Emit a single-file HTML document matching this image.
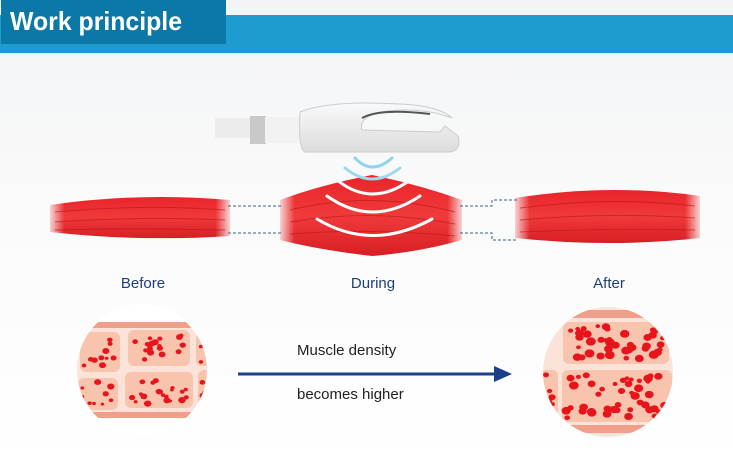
<!DOCTYPE html>
<html><head><meta charset="utf-8"><style>
body{margin:0;width:733px;height:469px;overflow:hidden;background:#fff;font-family:"Liberation Sans",sans-serif}
</style></head><body>
<svg id="s" width="733" height="469" viewBox="0 0 733 469" xmlns="http://www.w3.org/2000/svg">
<defs>
<linearGradient id="bg" x1="0" y1="0" x2="0" y2="1"><stop offset="0" stop-color="#f3f4f6"/><stop offset="0.5" stop-color="#fbfbfb"/><stop offset="1" stop-color="#ffffff"/></linearGradient>
<linearGradient id="mus" x1="0" y1="0" x2="0" y2="1"><stop offset="0" stop-color="#e8242a"/><stop offset="0.5" stop-color="#f03a3a"/><stop offset="1" stop-color="#d81e24"/></linearGradient>
<linearGradient id="fade" x1="0" y1="0" x2="1" y2="0"><stop offset="0" stop-color="#fff" stop-opacity="0.2"/><stop offset="0.08" stop-color="#fff" stop-opacity="1"/><stop offset="0.92" stop-color="#fff" stop-opacity="1"/><stop offset="1" stop-color="#fff" stop-opacity="0.2"/></linearGradient>
<mask id="m" maskContentUnits="objectBoundingBox"><rect width="1" height="1" fill="url(#fade)"/></mask>
<linearGradient id="hand" x1="0" y1="0" x2="0" y2="1"><stop offset="0" stop-color="#fafafa"/><stop offset="1" stop-color="#dcdcdc"/></linearGradient>
<clipPath id="c1"><circle cx="142" cy="370" r="65"/></clipPath>
<clipPath id="c2"><circle cx="608" cy="372" r="65"/></clipPath>
</defs>
<rect width="733" height="469" fill="url(#bg)"/>
<rect x="0" y="15" width="733" height="38" fill="#1f9ccf"/>
<rect x="1" y="0" width="225" height="44" fill="#0b78a8"/>
<text x="10" y="30" font-size="26" font-weight="bold" fill="#fff" textLength="172" lengthAdjust="spacingAndGlyphs" font-family="Liberation Sans,sans-serif">Work principle</text>

<rect x="215" y="118" width="40" height="20" fill="#ececec"/>
<rect x="250" y="116" width="16" height="28" fill="#c9c9c9"/>
<rect x="265" y="117" width="40" height="26" fill="#f2f2f2"/>
<path d="M300 112 Q330 100 400 104 Q440 106 452 118 Q420 106 380 112 Q358 118 362 130 L440 132 L445 126 L458 136 Q462 150 450 152 L305 152 Q298 150 300 112Z" fill="url(#hand)" stroke="#ccc" stroke-width="1"/>
<path d="M362 118 Q380 108 430 114" stroke="#555" stroke-width="2" fill="none"/>

<g mask="url(#m)"><path d="M50 205 Q140 192 230 200 L230 236 Q140 242 50 232Z" fill="url(#mus)"/></g>
<g mask="url(#m)"><path d="M280 200 Q320 185 372 175 Q420 185 462 200 L462 240 Q420 252 372 256 Q320 250 280 240Z" fill="url(#mus)"/></g>
<g mask="url(#m)"><path d="M515 198 Q610 183 700 196 L700 238 Q610 248 515 238Z" fill="url(#mus)"/></g>
<g stroke="#b8151b" stroke-width="1" fill="none" opacity="0.6">
<path d="M55 212 Q140 204 225 210M55 222 Q140 216 225 220M55 230 Q140 228 225 230"/>
<path d="M290 210 Q372 190 455 212M290 222 Q372 208 455 224M290 234 Q372 228 455 236"/>
<path d="M520 208 Q610 196 695 206M520 220 Q610 212 695 218M520 232 Q610 228 695 230"/>
</g>
<g fill="none" stroke-linecap="round">
<path d="M355 158 Q372 176 392 158" stroke="#8fd3ee" stroke-width="3"/>
<path d="M345 168 Q372 190 400 168" stroke="#9cd9f0" stroke-width="3"/>
<path d="M337 180 Q372 208 410 180" stroke="#fff" stroke-width="3"/>
<path d="M327 196 Q372 228 420 196" stroke="#fff" stroke-width="3"/>
<path d="M317 219 Q372 252 432 219" stroke="#fff" stroke-width="3"/>
</g>
<g stroke="#3b5f8a" stroke-width="1" stroke-dasharray="3,2" fill="none">
<path d="M228 206 H283M228 233 H283"/>
<path d="M460 206 H492 V200 H517M460 233 H492 V240 H517"/>
</g>
<g font-size="15" fill="#1f3f78" text-anchor="middle">
<text x="143" y="288">Before</text><text x="373" y="288">During</text><text x="609" y="288">After</text>
</g>

<circle cx="142" cy="370" r="66" fill="#fff"/>
<circle cx="608" cy="372" r="66" fill="#fff"/>
<g clip-path="url(#c1)">
<rect x="70" y="325" width="145" height="92" fill="#fbe3da"/>
<rect x="75" y="322" width="140" height="6" fill="#f0a08a"/>
<rect x="75" y="412" width="140" height="6" fill="#f0a08a"/>
<rect x="80" y="332" width="40" height="40" rx="6" fill="#f9c4ae"/>
<rect x="128" y="330" width="62" height="36" rx="6" fill="#f9c4ae"/>
<rect x="196" y="332" width="20" height="34" rx="6" fill="#f9c4ae"/>
<rect x="78" y="378" width="40" height="32" rx="6" fill="#f9c4ae"/>
<rect x="125" y="372" width="68" height="36" rx="6" fill="#f9c4ae"/>
<rect x="198" y="370" width="20" height="36" rx="6" fill="#f9c4ae"/>
</g>
<g clip-path="url(#c2)">
<rect x="540" y="305" width="140" height="135" fill="#fbe3da"/>
<rect x="540" y="310" width="140" height="8" fill="#f0a08a"/>
<rect x="540" y="425" width="140" height="8" fill="#f0a08a"/>
<rect x="563" y="322" width="106" height="42" rx="6" fill="#f9c4ae"/>
<rect x="562" y="370" width="110" height="52" rx="6" fill="#f9c4ae"/>
<rect x="540" y="370" width="18" height="45" rx="5" fill="#f9c4ae"/>
</g>
<g id="d1" fill="#e8141c" clip-path="url(#c1)"></g>
<g id="d2" fill="#e8141c" clip-path="url(#c2)"></g>

<line x1="238" y1="374" x2="496" y2="374" stroke="#1b3f8b" stroke-width="3"/>
<path d="M494 366 L512 374 L494 382Z" fill="#1b3f8b"/>
<g font-size="15" fill="#222">
<text x="297" y="355">Muscle density</text><text x="297" y="399">becomes higher</text>
</g>
</svg>
<script>
var seed=7;function r(){seed=(seed*16807)%2147483647;return seed/2147483647;}
function fill(g,rects,n,rad){var el=document.getElementById(g);var ns="http://www.w3.org/2000/svg";
rects.forEach(function(b){for(var i=0;i<n;i++){var e=document.createElementNS(ns,"ellipse");
e.setAttribute("cx",b[0]+4+r()*(b[2]-8));e.setAttribute("cy",b[1]+4+r()*(b[3]-8));
var k=rad*(0.6+r()*0.7);e.setAttribute("rx",k*1.2);e.setAttribute("ry",k);el.appendChild(e);}});}
var s=[[80,332,40,40,10],[128,330,62,36,18],[196,332,20,34,5],[78,378,40,32,9],[125,372,68,36,20],[198,370,20,36,6]];
s.forEach(function(b){fill("d1",[b],b[4],2.4);});
fill("d2",[[563,322,106,42],[562,370,110,52]],45,3.2);
fill("d2",[[540,370,18,45]],5,2.5);
</script>
</body></html>
